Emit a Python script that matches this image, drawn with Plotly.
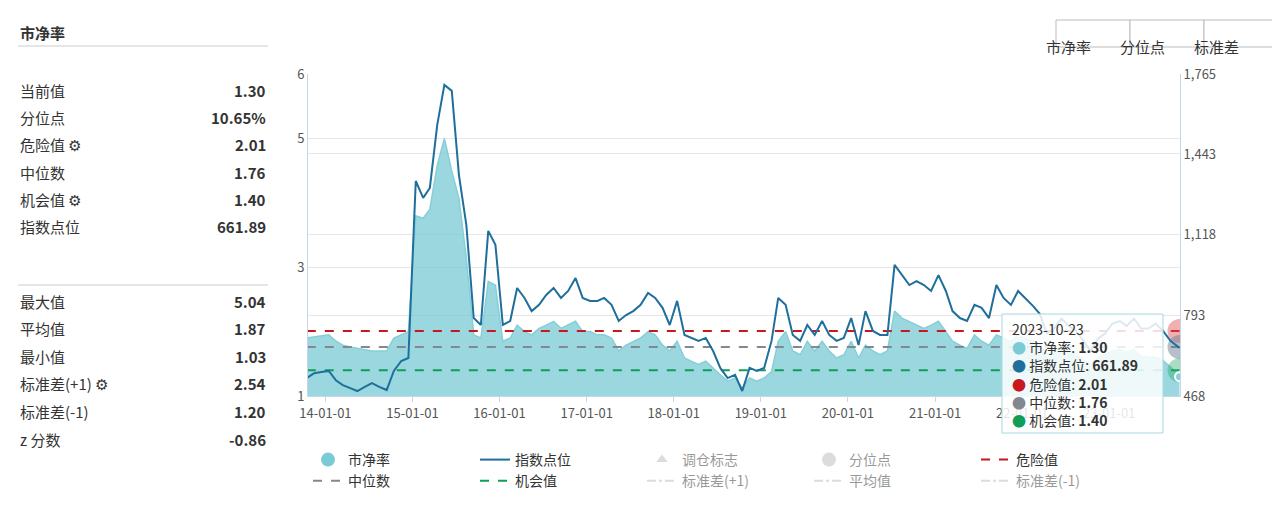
import plotly.graph_objects as go

# ---- data (month-middle estimates) ----
months = []
for y in range(2013, 2024):
    for m in range(1, 13):
        if (y == 2013 and m < 10) or (y == 2023 and m > 9):
            continue
        months.append(f"{y}-{m:02d}-15")
months.append("2023-10-23")

pb = [1.90, 1.92, 1.93,
      1.95, 1.85, 1.79, 1.76, 1.74, 1.72, 1.70, 1.70, 1.70, 1.90, 1.95, 2.00,
      3.80, 3.76, 3.90, 4.58, 5.00, 4.49, 4.07, 3.14, 1.95, 1.90, 2.78, 2.72,
      1.85, 1.90, 2.10, 2.00, 1.95, 2.05, 2.10, 2.16, 2.05, 2.10, 2.16, 2.00,
      2.00, 1.95, 1.95, 1.90, 1.70, 1.79, 1.85, 1.90, 2.00, 1.95, 1.79, 1.70,
      1.85, 1.59, 1.54, 1.49, 1.54, 1.43, 1.33, 1.23, 1.28, 1.12, 1.28, 1.23,
      1.28, 1.38, 1.85, 2.00, 1.70, 1.64, 1.85, 1.70, 1.85, 1.70, 1.59, 1.64,
      1.85, 1.59, 1.79, 1.70, 1.64, 1.70, 2.32, 2.21, 2.16, 2.10, 2.05, 2.10,
      2.16, 2.00, 1.85, 1.79, 1.74, 1.95, 1.85, 1.79, 1.95, 1.90, 1.85, 1.95,
      1.90, 1.85, 1.80, 1.65, 1.70, 1.75, 1.70, 1.65, 1.55, 1.50, 1.60, 1.65,
      1.70, 1.72, 1.68, 1.72, 1.62, 1.60, 1.60, 1.55, 1.45,
      1.30]
index_pts = [540, 560, 565,
             569, 530, 512, 500, 488, 505, 520, 505, 492, 569, 609, 621,
             1334, 1266, 1306, 1560, 1721, 1697, 1358, 1157, 782, 754, 1133, 1077,
             754, 770, 903, 863, 810, 835, 875, 903, 863, 891, 943, 863,
             851, 851, 863, 835, 770, 794, 810, 835, 883, 863, 823, 754,
             851, 714, 702, 690, 702, 649, 581, 540, 553, 488, 581, 569,
             581, 690, 863, 835, 714, 690, 754, 714, 770, 714, 690, 702,
             782, 673, 810, 730, 714, 714, 996, 955, 915, 931, 915, 891,
             955, 891, 810, 782, 770, 835, 823, 782, 915, 863, 835, 891,
             863, 831, 800, 720, 740, 780, 750, 730, 690, 650, 700, 720,
             760, 770, 750, 780, 740, 740, 760, 730, 690,
             661.89]

danger, median, chance = 2.01, 1.76, 1.40
stats_top = [("当前值", "1.30"), ("分位点", "10.65%"), ("危险值 ⚙", "2.01"),
             ("中位数", "1.76"), ("机会值 ⚙", "1.40"), ("指数点位", "661.89")]
stats_bot = [("最大值", "5.04"), ("平均值", "1.87"), ("最小值", "1.03"),
             ("标准差(+1) ⚙", "2.54"), ("标准差(-1)", "1.20"), ("z 分数", "-0.86")]

FONT = "Noto Sans CJK SC"
W, H = 1280, 508
L, R, T, B = 300, 1172, 66, 388


def px(x):
    return (x - L) / (R - L)


def py(y):
    return (B - y) / (B - T)


fig = go.Figure()
fig.add_trace(go.Scatter(x=months, y=pb, name="市净率", mode="lines", fill="tozeroy", showlegend=False,
                         line=dict(color="#86cfd8", width=1.5), fillcolor="rgba(122,201,212,0.75)"))
fig.add_trace(go.Scatter(x=[None], y=[None], name="市净率", mode="markers",
                         marker=dict(color="#7acbd5", size=14)))
fig.add_trace(go.Scatter(x=months, y=index_pts, name="指数点位", mode="lines", yaxis="y2",
                         line=dict(color="#1f6f9c", width=2)))
fig.add_trace(go.Scatter(x=[None], y=[None], name="调仓标志", mode="markers",
                         marker=dict(symbol="triangle-up", color="#bbb", size=10), visible="legendonly"))
fig.add_trace(go.Scatter(x=[None], y=[None], name="分位点", mode="markers",
                         marker=dict(color="#bbb", size=14), visible="legendonly"))
for nm, v, c in [("危险值", danger, "#c8171e"), ("中位数", median, "#808890"), ("机会值", chance, "#0f9d58")]:
    fig.add_trace(go.Scatter(x=[months[0], months[-1]], y=[v, v], name=nm, mode="lines",
                             line=dict(color=c, width=2, dash="dash")))
for nm in ["标准差(+1)", "平均值", "标准差(-1)"]:
    fig.add_trace(go.Scatter(x=[None], y=[None], name=nm, mode="lines",
                             line=dict(color="#bbb", width=2, dash="dashdot"), visible="legendonly"))

# end-point halos
for v, c in [(danger, "rgba(220,80,80,0.45)"), (median, "rgba(110,130,150,0.5)"), (chance, "rgba(40,170,100,0.4)")]:
    fig.add_trace(go.Scatter(x=[months[-1]], y=[v], mode="markers", showlegend=False, hoverinfo="skip",
                             marker=dict(size=24, color=c, line=dict(width=0))))
fig.add_trace(go.Scatter(x=[months[-1]], y=[pb[-1]], mode="markers", showlegend=False,
                         marker=dict(size=9, color="#86cfd8", line=dict(color="white", width=2))))

ann = [dict(x=10, y=24, text="<b>市净率</b>", xanchor="left")]
rows = [(r, 82 + i * 27.4) for i, r in enumerate(stats_top)] + [(r, 293 + i * 27.6) for i, r in enumerate(stats_bot)]
for (lab, val), yy in rows:
    ann.append(dict(x=10, y=yy, text=lab, xanchor="left"))
    ann.append(dict(x=260, y=yy, text="<b>" + val + "</b>", xanchor="right"))
for a in ann:
    xx, yy = a["x"], a["y"]
    a.update(x=px(xx), y=py(yy), xref="paper", yref="paper", showarrow=False, yanchor="middle",
             font=dict(size=15, color="#333"))

shapes = [dict(type="line", xref="paper", yref="paper", x0=px(10), x1=px(260), y0=py(y0), y1=py(y0),
               line=dict(color="#ccc", width=1)) for y0 in (38, 277)]
# buttons
for lab, x0, x1 in [("市净率", 1048, 1122), ("分位点", 1122, 1196), ("标准差", 1196, 1269)]:
    shapes.append(dict(type="rect", xref="paper", yref="paper", x0=px(x0), x1=px(x1), y0=py(39), y1=py(12),
                       line=dict(color="#bbb", width=1), fillcolor="white"))
    ann.append(dict(x=px((x0 + x1) / 2), y=py(26), xref="paper", yref="paper", text=lab, showarrow=False,
                    font=dict(size=15, color="#333")))
# tooltip
shapes.append(dict(type="rect", xref="paper", yref="paper", x0=px(994), x1=px(1155), y0=py(306), y1=py(425),
                   line=dict(color="#a8d8de", width=1), fillcolor="rgba(255,255,255,0.85)"))
tip = ("2023-10-23<br><span style='color:#7acbd5'>●</span> 市净率: <b>1.30</b>"
       "<br><span style='color:#1f6f9c'>●</span> 指数点位: <b>661.89</b>"
       "<br><span style='color:#c8171e'>●</span> 危险值: <b>2.01</b>"
       "<br><span style='color:#808890'>●</span> 中位数: <b>1.76</b>"
       "<br><span style='color:#0f9d58'>●</span> 机会值: <b>1.40</b>")
ann.append(dict(x=px(1002), y=py(309), xref="paper", yref="paper", text=tip, showarrow=False, align="left",
                xanchor="left", yanchor="top", font=dict(size=14, color="#333")))

fig.update_layout(
    width=W, height=H, margin=dict(l=L, r=W - R, t=T, b=H - B, autoexpand=False),
    paper_bgcolor="white", plot_bgcolor="white",
    font=dict(family=FONT, color="#333"),
    xaxis=dict(type="date", range=["2013-10-20", "2023-10-25"], tickformat="%y-%m-%d",
               tick0="2014-01-01", dtick="M12", showgrid=False, ticks="outside", ticklen=5,
               tickcolor="#c8d4e8", showline=True, linecolor="#c8d4e8", tickfont=dict(size=13, color="#555")),
    yaxis=dict(range=[1, 6], tickvals=[1, 3, 5, 6], gridcolor="#e6e6e6", zeroline=False, showline=True,
               linecolor="#c8d4e8", tickfont=dict(size=13, color="#555")),
    yaxis2=dict(range=[468, 1765], tickvals=[468, 793, 1118, 1443, 1765], tickformat=",d", overlaying="y",
                side="right", gridcolor="#e6e6e6", zeroline=False, showline=True, linecolor="#c8d4e8",
                tickfont=dict(size=13, color="#555")),
    legend=dict(orientation="h", x=px(300), y=py(436), xanchor="left", yanchor="top", entrywidth=122,
                font=dict(size=14, color="#333"), itemclick=False, tracegroupgap=0),
    showlegend=True, annotations=ann, shapes=shapes,
)

fig.write_html("out.html")
